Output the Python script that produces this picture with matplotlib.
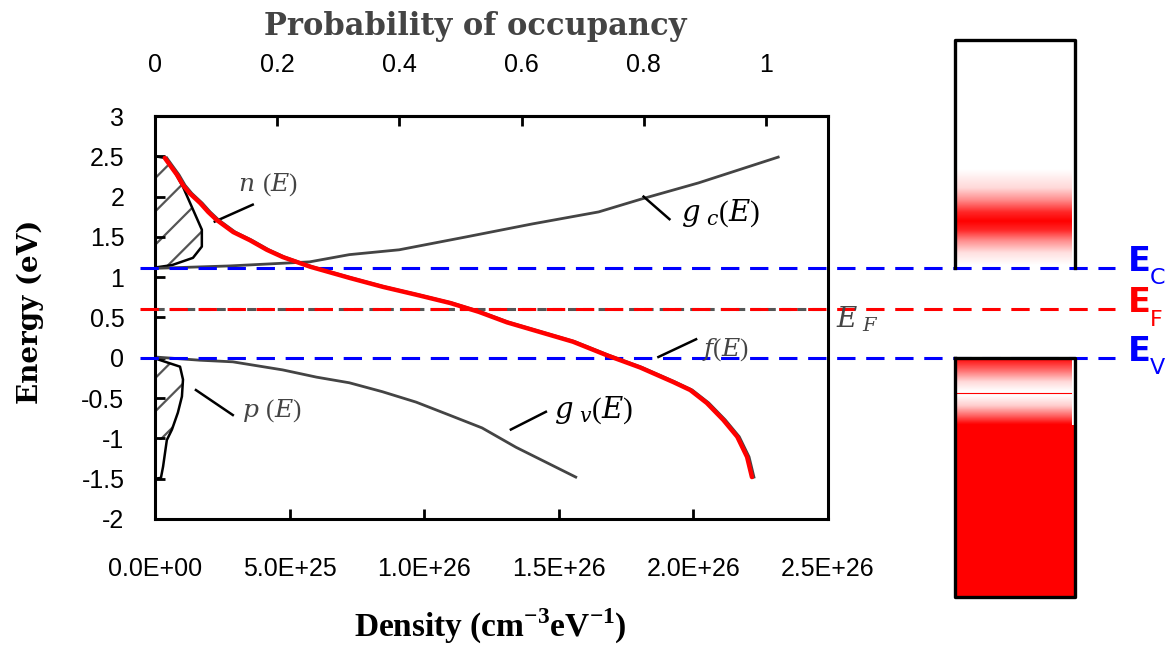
import numpy as np
import matplotlib.pyplot as plt
from matplotlib import transforms

plt.rcParams['mathtext.fontset'] = 'custom'
plt.rcParams['mathtext.rm'] = 'Liberation Serif'
plt.rcParams['mathtext.bf'] = 'Liberation Serif:bold'
plt.rcParams['mathtext.it'] = 'DejaVu Serif:italic'
plt.rcParams['hatch.linewidth'] = 1.6

# band edges and Fermi level (eV)
E_C = 1.12
E_F = 0.6
E_V = 0.0

# conduction band density of states g_c(E)
gc_E = [1.11, 1.14, 1.19, 1.28, 1.34, 1.50, 1.66, 1.81, 1.97, 2.17, 2.49]
gc_d = [0.0, 0.278e26, 0.574e26, 0.722e26, 0.907e26, 1.156e26, 1.40e26,
        1.648e26, 1.807e26, 2.019e26, 2.315e26]

# valence band density of states g_v(E)
gv_E = [0.01, -0.03, -0.05, -0.15, -0.24, -0.31, -0.42, -0.55, -0.71, -0.87,
        -1.11, -1.48]
gv_d = [0.0, 0.167e26, 0.289e26, 0.474e26, 0.600e26, 0.722e26, 0.844e26,
        0.970e26, 1.093e26, 1.215e26, 1.341e26, 1.563e26]

# electron density n(E) outline
n_E = [1.12, 1.15, 1.24, 1.38, 1.59, 1.84, 2.12, 2.41, 2.48, 2.50]
n_d = [0.0, 0.063e26, 0.141e26, 0.174e26, 0.174e26, 0.141e26, 0.104e26,
       0.056e26, 0.037e26, 0.0]

# hole density p(E) outline
p_E = [0.0, -0.02, -0.11, -0.27, -0.48, -0.68, -0.89, -1.02, -1.35, -1.49, -1.50]
p_d = [0.0, 0.011e26, 0.093e26, 0.104e26, 0.100e26, 0.085e26, 0.063e26,
       0.044e26, 0.030e26, 0.022e26, 0.0]

# Fermi-Dirac occupancy f(E)
f_E = [2.48, 2.39, 2.27, 2.14, 2.04, 1.92, 1.81, 1.71, 1.56, 1.46, 1.34, 1.25,
       1.13, 0.99, 0.88, 0.78, 0.68, 0.57, 0.44, 0.32, 0.20, 0.03, -0.12,
       -0.30, -0.40, -0.56, -0.77, -0.98, -1.23, -1.48]
f_p = [0.016, 0.0245, 0.036, 0.046, 0.057, 0.074, 0.087, 0.101, 0.128, 0.155,
       0.183, 0.209, 0.254, 0.319, 0.373, 0.429, 0.483, 0.530, 0.576, 0.630,
       0.684, 0.740, 0.794, 0.848, 0.876, 0.903, 0.930, 0.953, 0.969, 0.977]

dens_ticks = [0, 0.5e26, 1.0e26, 1.5e26, 2.0e26, 2.5e26]
dens_labels = ['0.0E+00', '5.0E+25', '1.0E+26', '1.5E+26', '2.0E+26', '2.5E+26']
energy_ticks = [-2, -1.5, -1, -0.5, 0, 0.5, 1, 1.5, 2, 2.5, 3]
energy_labels = ['-2', '-1.5', '-1', '-0.5', '0', '0.5', '1', '1.5', '2', '2.5', '3']
prob_ticks = [0, 0.2, 0.4, 0.6, 0.8, 1]
prob_labels = ['0', '0.2', '0.4', '0.6', '0.8', '1']

# red shading of the band diagram (energy, intensity)
cb_shade_E = [1.15, 1.30, 1.45, 1.58, 1.69, 1.80, 1.95, 2.10, 2.33]
cb_shade_I = [0.0, 0.12, 0.45, 0.85, 1.0, 0.85, 0.45, 0.15, 0.0]
vb_shade_E = [-2.97, -0.83, -0.72, -0.60, -0.47, -0.42, -0.30, -0.15, 0.0]
vb_shade_I = [1.0, 1.0, 0.6, 0.2, 0.0, 0.0, 0.15, 0.6, 1.0]
box_top = 3.94
box_bottom = -2.97

W, H = 1168, 648
fig = plt.figure(figsize=(W / 100, H / 100), dpi=100)
ax = fig.add_axes([155 / W, 129 / H, 673 / W, 403 / H])
ax.set_xlim(0, 2.5e26)
ax.set_ylim(-2, 3)

tick_font = dict(family='Liberation Sans', size=18)
ax.set_xticks(dens_ticks)
ax.set_xticklabels(dens_labels, **tick_font)
ax.set_yticks(energy_ticks)
ax.set_yticklabels(energy_labels, **tick_font)
ax.tick_params(direction='in', length=7, width=2, top=False, right=False)
ax.tick_params(axis='x', pad=27)
ax.tick_params(axis='y', pad=22)
for s in ax.spines.values():
    s.set_linewidth(2.2)

ax2 = ax.twiny()
ax2.set_xlim(0, 673 / 611)
ax2.set_xticks(prob_ticks)
ax2.set_xticklabels(prob_labels, **tick_font)
ax2.tick_params(axis='x', direction='in', length=7, width=2, pad=28)
for name, s in ax2.spines.items():
    s.set_visible(name == 'top')
    s.set_linewidth(2.2)

gray = '#444444'

# hatched carrier densities
ax.fill_betweenx(n_E, 0, n_d, facecolor='none', edgecolor='#555555',
                 hatch='/', linewidth=0)
p_mask = np.array(p_E) >= -1.02
ax.fill_betweenx(p_E, 0, p_d, where=p_mask, facecolor='none',
                 edgecolor='#555555', hatch='/', linewidth=0)
ax.plot(n_d, n_E, color='black', lw=1.8)
ax.plot(p_d, p_E, color='black', lw=1.8)

ax.plot(gc_d, gc_E, color=gray, lw=2)
ax.plot(gv_d, gv_E, color=gray, lw=2)

# level lines running across to the band diagram
ytr = ax.get_yaxis_transform()
ax.plot([0, 1], [E_F, E_F], transform=ytr, color='#555555', lw=2.2,
        dashes=(3, 2))
for lev, col in [(E_C, '#0000ff'), (E_F, '#ff0000'), (E_V, '#0000ff')]:
    ax.plot([-0.0223, 1.4264], [lev, lev], transform=ytr, color=col, lw=2.2,
            dashes=(6, 3.5), clip_on=False, zorder=3)

# occupancy on the top axis
shift = transforms.offset_copy(ax2.transData, fig=fig, x=2, y=0, units='dots')
ax2.plot(f_p, f_E, color=gray, lw=2, transform=shift)
ax2.plot(f_p, f_E, color='#ff0000', lw=3.2, solid_capstyle='round',
         solid_joinstyle='round')

# leader lines and curve labels
lead = dict(color='black', lw=1.8)
ax.plot([0.222e26, 0.363e26], [1.69, 1.90], **lead)
ax.plot([0.152e26, 0.289e26], [-0.40, -0.71], **lead)
ax.plot([1.815e26, 1.911e26], [2.00, 1.72], **lead)
ax.plot([1.870e26, 2.010e26], [0.01, 0.23], **lead)
ax.plot([1.322e26, 1.452e26], [-0.89, -0.67], **lead)
lab = dict(fontsize=18, va='center', ha='left')
ax.text(0.31e26, 2.15, r'$n\ (E)$', color=gray, **lab)
ax.text(0.325e26, -0.65, r'$p\ (E)$', color=gray, **lab)
ax.text(1.955e26, 1.80, r'$g_{\ c}(E)$', color='black', fontsize=21,
        va='center', ha='left')
ax.text(2.033e26, 0.10, r'$f(E)$', color=gray, **lab)
ax.text(1.481e26, -0.65, r'$g_{\ v}(E)$', color='black', fontsize=21,
        va='center', ha='left')
ax.text(2.53e26, 0.48, r'$E_{\ F}$', color=gray, fontsize=20, va='center',
        ha='left', clip_on=False)

# axis titles
fig.text(475 / W, 1 - 27 / H, 'Probability of occupancy', ha='center',
         va='center', family='DejaVu Serif', weight='bold', fontsize=22,
         color=gray)
fig.text(30 / W, 1 - 312 / H, 'Energy (eV)', ha='center', va='center',
         rotation=90, family='DejaVu Serif', weight='bold', fontsize=20)
fig.text(490 / W, 1 - 626 / H,
         r'Density (cm$^{\mathbf{-3}}$eV$^{\mathbf{-1}}$)', ha='center',
         va='center', family='Liberation Serif', weight='bold', fontsize=24)

# band diagram on the right
bx = fig.add_axes([955 / W, 129 / H, 120 / W, 403 / H], sharey=ax)
bx.set_xlim(0, 1)
bx.axis('off')

def shade(E_pts, I_pts, lo, hi):
    e = np.linspace(lo, hi, 300)
    inten = np.interp(e, E_pts, I_pts)
    img = np.ones((len(e), 1, 3))
    img[:, 0, 1] = 1 - inten
    img[:, 0, 2] = 1 - inten
    bx.imshow(img, extent=[0, 0.97, lo, hi], origin='lower', aspect='auto',
              interpolation='bilinear', clip_on=False, zorder=1)

shade(cb_shade_E, cb_shade_I, cb_shade_E[0], cb_shade_E[-1])
shade(vb_shade_E, vb_shade_I, box_bottom, E_V)
bx.fill_between([0.97, 1.0], box_bottom, -0.83, color='#ff0000', lw=0,
                clip_on=False)
bx.plot([0, 0.97], [-0.44, -0.44], color='#ff0000', lw=0.8, clip_on=False)
bx.plot([0, 0, 1, 1], [E_C, box_top, box_top, E_C], color='black', lw=2.4,
        clip_on=False, zorder=4)
bx.plot([0, 0, 1, 1, 0], [E_V, box_bottom, box_bottom, E_V, E_V],
        color='black', lw=2.4, clip_on=False, zorder=4)
bx.set_ylim(-2, 3)

# level names
btr = transforms.blended_transform_factory(fig.transFigure, ax.transData)
for lev, sub, col in [(E_C, 'C', '#0000ff'), (E_F, 'F', '#ff0000'),
                      (E_V, 'V', '#0000ff')]:
    fig.text(1128 / W, lev + 0.08, 'E', transform=btr, color=col,
             family='DejaVu Sans', weight='bold', fontsize=24, va='center')
    fig.text(1150 / W, lev - 0.13, sub, transform=btr, color=col,
             family='DejaVu Sans', fontsize=16, va='center')

fig.savefig('out.png', dpi=100)
